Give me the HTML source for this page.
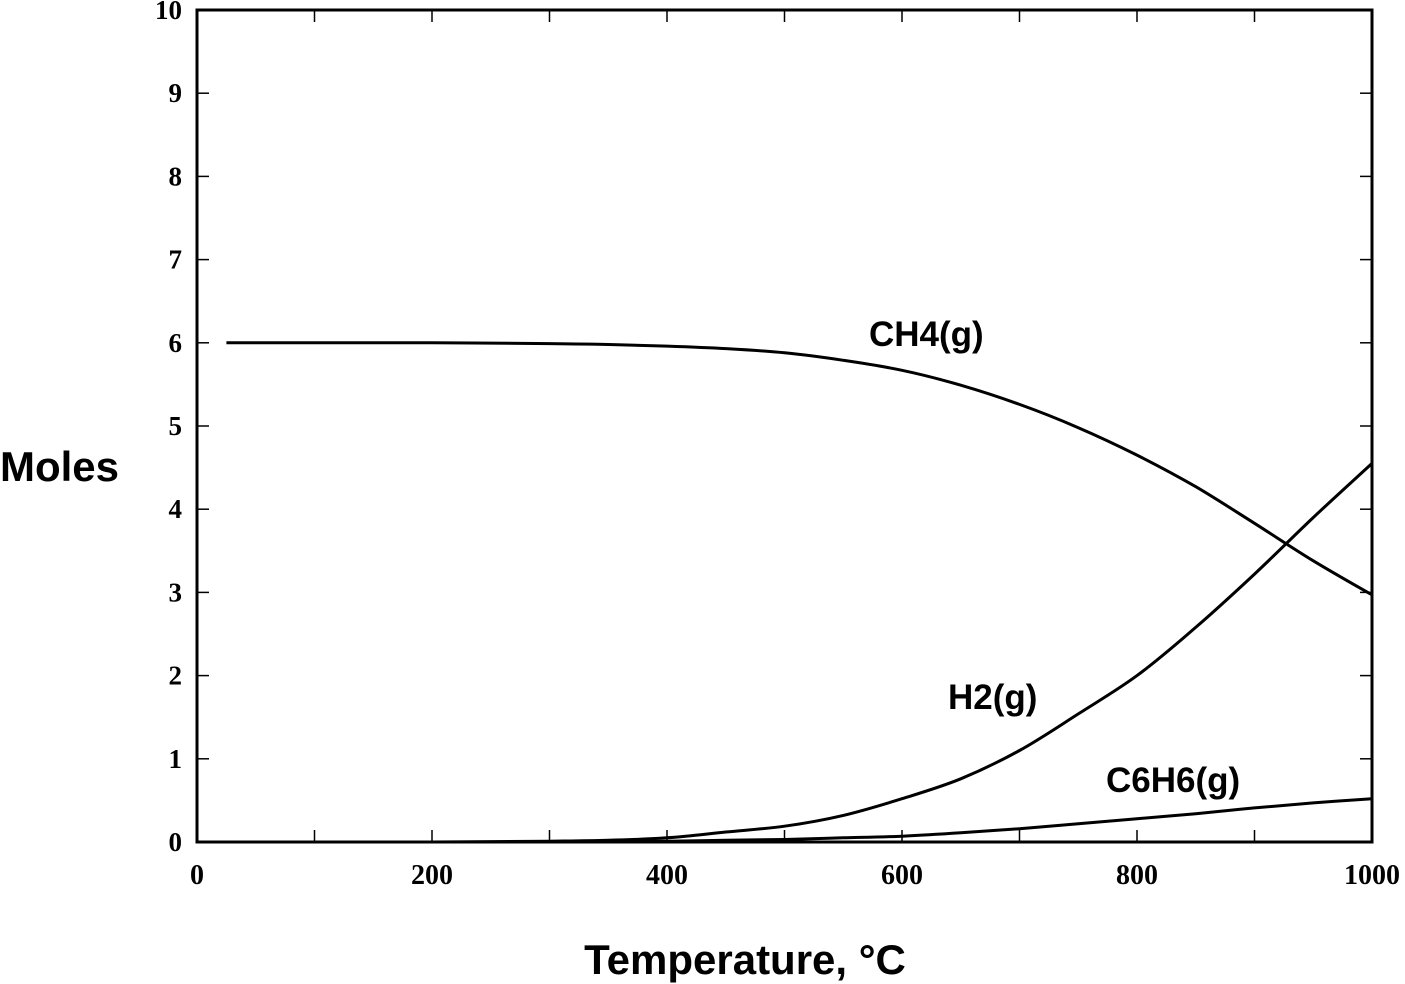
<!DOCTYPE html>
<html><head><meta charset="utf-8"><style>
html,body{margin:0;padding:0;background:#fff;}
svg{display:block;}
</style></head><body>
<svg id="chart" width="1405" height="984" xmlns="http://www.w3.org/2000/svg"></svg>
<script>
const temps = [25, 100, 200, 300, 350, 400, 450, 500, 550, 600, 650, 700, 750, 800, 850, 900, 950, 1000];
const ch4 = [6.0, 6.0, 6.0, 5.99, 5.98, 5.96, 5.93, 5.88, 5.79, 5.67, 5.49, 5.26, 4.98, 4.65, 4.27, 3.83, 3.38, 2.97];
const h2 = [0, 0, 0, 0.01, 0.02, 0.05, 0.12, 0.19, 0.32, 0.52, 0.76, 1.1, 1.54, 2.0, 2.58, 3.22, 3.9, 4.55];
const c6h6 = [0, 0, 0, 0, 0.005, 0.01, 0.02, 0.03, 0.05, 0.07, 0.11, 0.16, 0.22, 0.28, 0.34, 0.41, 0.47, 0.52];
const xTicks = [0, 200, 400, 600, 800, 1000];
const xMinor = [100, 300, 500, 700, 900];
const yTicks = [0, 1, 2, 3, 4, 5, 6, 7, 8, 9, 10];

const L = 197, R = 1372, T = 10, B = 842;
const X = v => L + (v / 1000) * (R - L);
const Y = v => B - (v / 10) * (B - T);
const svg = document.getElementById('chart');
const NS = 'http://www.w3.org/2000/svg';
function mk(tag, attrs, parent) {
  const e = document.createElementNS(NS, tag);
  for (const k in attrs) e.setAttribute(k, attrs[k]);
  (parent || svg).appendChild(e);
  return e;
}
let e = mk('rect', {x: L, y: T, width: R - L, height: B - T, fill: 'none', stroke: '#000', 'stroke-width': 3});



xTicks.concat(xMinor).forEach(v => {
  let t = mk('line', {x1: X(v), x2: X(v), y1: B, y2: B - 12, stroke: '#000', 'stroke-width': 1.5});
  
  
  let t2 = mk('line', {x1: X(v), x2: X(v), y1: T, y2: T + 12, stroke: '#000', 'stroke-width': 1.5});
  
  
});
xTicks.forEach(v => {
  let t = mk('text', {x: X(v), y: 884, 'text-anchor': 'middle', 'font-family': 'Liberation Serif, serif', 'font-weight': 'bold', 'font-size': 28});
  t.textContent = v;
  
  
});
yTicks.forEach(v => {
  let a = mk('line', {x1: L, x2: L + 12, y1: Y(v), y2: Y(v), stroke: '#000', 'stroke-width': 1.5});
  
  
  let b = mk('line', {x1: R - 12, x2: R, y1: Y(v), y2: Y(v), stroke: '#000', 'stroke-width': 1.5});
  
  
  let t = mk('text', {x: 182, y: Y(v) + 9, 'text-anchor': 'end', 'font-family': 'Liberation Serif, serif', 'font-weight': 'bold', 'font-size': 27});
  t.textContent = v;
  
  
});

function series(vals, name) {
  const pts = temps.map((t, i) => [X(t), Y(vals[i])]);
  let d = 'M' + pts[0][0].toFixed(1) + ',' + pts[0][1].toFixed(1);
  for (let i = 0; i < pts.length - 1; i++) {
    const p0 = pts[Math.max(0, i - 1)], p1 = pts[i], p2 = pts[i + 1], p3 = pts[Math.min(pts.length - 1, i + 2)];
    const c1 = [p1[0] + (p2[0] - p0[0]) / 6, p1[1] + (p2[1] - p0[1]) / 6];
    const c2 = [p2[0] - (p3[0] - p1[0]) / 6, p2[1] - (p3[1] - p1[1]) / 6];
    d += ' C' + c1.map(n => n.toFixed(1)).join(',') + ' ' + c2.map(n => n.toFixed(1)).join(',') + ' ' + p2.map(n => n.toFixed(1)).join(',');
  }
  let p = mk('path', {d: d, fill: 'none', stroke: '#000', 'stroke-width': 3, 'stroke-linejoin': 'round'});
  
  
}
series(ch4, 'ch4-line');
series(h2, 'h2-line');
series(c6h6, 'c6h6-line');

function label(txt, x, y, size, name, anchor) {
  let t = mk('text', {x: x, y: y, 'font-family': 'Liberation Sans, sans-serif', 'font-weight': 'bold', 'font-size': size, 'text-anchor': anchor || 'start'});
  t.textContent = txt;
  
  
}
label('CH4(g)', 869, 346, 35, 'ch4-label');
label('H2(g)', 948, 709, 35, 'h2-label');
label('C6H6(g)', 1106, 792, 35, 'c6h6-label');
label('Moles', 0, 481, 42, 'y-axis-title');
label('Temperature, °C', 745, 974, 42, 'x-axis-title', 'middle');
</script>
</body></html>
